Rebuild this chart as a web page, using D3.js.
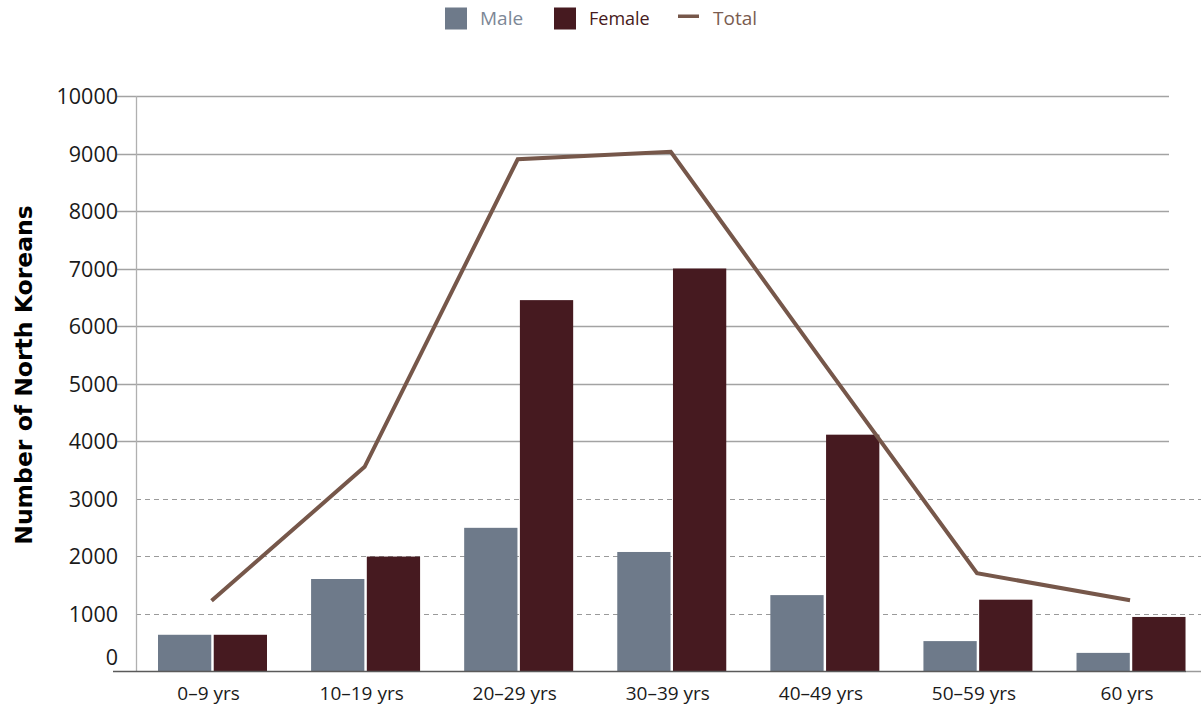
<!DOCTYPE html>
<html>
<head>
<meta charset="utf-8">
<script src="https://cdn.jsdelivr.net/npm/d3@7"></script>
<style>
  html, body { margin: 0; padding: 0; background: #fff; }
  svg { display: block; }
</style>
</head>
<body>
<svg id="chart" width="1201" height="709"></svg>
<script>
const categories = ["0\u20139 yrs", "10\u201319 yrs", "20\u201329 yrs", "30\u201339 yrs", "40\u201349 yrs", "50\u201359 yrs", "60 yrs"];
const maleValues = [630, 1600, 2490, 2070, 1320, 520, 315];
const femaleValues = [630, 1990, 6450, 7000, 4110, 1240, 940];
const totalValues = [1220, 3550, 8900, 9030, 5350, 1700, 1230];
const yTicks = [0, 1000, 2000, 3000, 4000, 5000, 6000, 7000, 8000, 9000, 10000];
const seriesNames = ["Male", "Female", "Total"];
const colors = { Male: "#6e7a8a", Female: "#461a20", Total: "#76574a" };
const textColors = { Male: "#7d8796", Female: "#461a20", Total: "#7a5c50" };

const svg = d3.select("#chart");
const font = "'Open Sans', sans-serif";

const x = d3.scaleBand().domain(categories).range([136, 1207.6]).padding(0);
const x1 = d3.scaleBand().domain(["Male", "Female"]).range([22, 131]).paddingInner(5 / 114).paddingOuter(0);
const y = d3.scaleLinear().domain([0, 10000]).range([671, 96]);

// gridlines
const grid = svg.append("g");
yTicks.filter(t => t > 0).forEach(t => {
  const dashed = t <= 3000;
  grid.append("line")
    .attr("x1", dashed ? 136 : 117).attr("x2", dashed ? 1201 : 1169)
    .attr("y1", Math.round(y(t)) + 0.5).attr("y2", Math.round(y(t)) + 0.5)
    .attr("stroke", dashed ? "#9a9a9a" : "#a3a3a3")
    .attr("stroke-width", dashed ? 1.2 : 1.3)
    .attr("stroke-dasharray", dashed ? "5,4" : null);
});

// y axis line
svg.append("line")
  .attr("x1", 136.5).attr("x2", 136.5).attr("y1", 96).attr("y2", 671)
  .attr("stroke", "#b0b0b0").attr("stroke-width", 1.3);

// y tick labels
const yAxis = d3.axisLeft(y).tickValues(yTicks).tickSize(0).tickPadding(0).tickFormat(d3.format("d"));
const yg = svg.append("g").attr("transform", "translate(118,0)").call(yAxis);
yg.select(".domain").remove();
yg.selectAll("text")
  .attr("font-family", font).attr("font-size", 21.5).attr("fill", "#1a1a1a")
  .attr("dy", d => d === 0 ? "-0.3em" : "0.35em")
  .attr("x", 0);

// bars
const groups = svg.append("g").selectAll("g")
  .data(categories)
  .join("g")
  .attr("transform", d => `translate(${x(d)},0)`);

groups.append("rect")
  .attr("x", x1("Male")).attr("width", x1.bandwidth())
  .attr("y", (d, i) => y(maleValues[i]))
  .attr("height", (d, i) => y(0) - y(maleValues[i]))
  .attr("fill", colors.Male);

groups.append("rect")
  .attr("x", x1("Female")).attr("width", x1.bandwidth())
  .attr("y", (d, i) => y(femaleValues[i]))
  .attr("height", (d, i) => y(0) - y(femaleValues[i]))
  .attr("fill", colors.Female);

// baseline
svg.append("line")
  .attr("x1", 113).attr("x2", 1186).attr("y1", 671.5).attr("y2", 671.5)
  .attr("stroke", "#5a5a5a").attr("stroke-width", 1.5);
svg.append("line")
  .attr("x1", 1186).attr("x2", 1201).attr("y1", 671.5).attr("y2", 671.5)
  .attr("stroke", "#9a9a9a").attr("stroke-width", 1.5);

// total line
const line = d3.line()
  .x((d, i) => x(categories[i]) + x.bandwidth() / 2 - 1)
  .y(d => y(d));
svg.append("path")
  .datum(totalValues)
  .attr("d", line)
  .attr("fill", "none")
  .attr("stroke", colors.Total)
  .attr("stroke-width", 4);

// x labels
const xAxis = d3.axisBottom(x).tickSize(0).tickPadding(0);
const xg = svg.append("g").attr("transform", "translate(-4,700)").call(xAxis);
xg.select(".domain").remove();
xg.selectAll("text")
  .attr("font-family", font).attr("font-size", 19).attr("fill", "#1a1a1a")
  .attr("dy", 0).attr("y", 0);

// y axis title
svg.append("text")
  .attr("transform", "translate(32,375) rotate(-90)")
  .attr("text-anchor", "middle")
  .attr("font-family", "'DejaVu Sans', sans-serif")
  .attr("font-weight", "bold")
  .attr("font-size", 23.5)
  .attr("fill", "#000")
  .text("Number of North Koreans");

// legend
const legend = svg.append("g");
const legendItems = [
  { name: "Male", sx: 445, tx: 480 },
  { name: "Female", sx: 554, tx: 589 },
  { name: "Total", sx: 678, tx: 713 }
];
legendItems.forEach(it => {
  if (it.name === "Total") {
    legend.append("rect").attr("x", it.sx).attr("y", 14.5).attr("width", 21).attr("height", 3.5).attr("fill", colors.Total);
  } else {
    legend.append("rect").attr("x", it.sx).attr("y", 7.5).attr("width", 22).attr("height", 22).attr("fill", colors[it.name]);
  }
  legend.append("text")
    .attr("x", it.tx).attr("y", 25)
    .attr("font-family", font).attr("font-size", it.name === "Female" ? 18 : 19)
    .attr("fill", textColors[it.name])
    .text(it.name);
});
</script>
</body>
</html>
